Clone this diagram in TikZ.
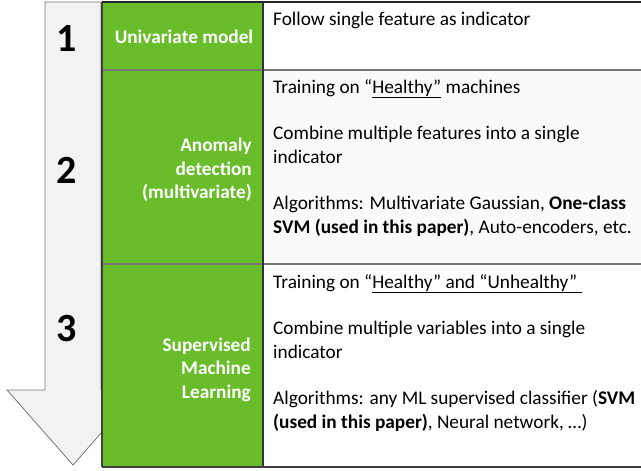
\documentclass[tikz,border=0pt]{standalone}
\usepackage{fontspec}
\setmainfont{Carlito}
\definecolor{tgreen}{RGB}{106,189,42}
\definecolor{arrowfill}{RGB}{242,242,242}
\definecolor{rowgray}{RGB}{250,250,250}
\definecolor{linegray}{RGB}{118,118,118}
\begin{document}
\begin{tikzpicture}[x=1pt,y=-1pt,
  body/.style={anchor=base west,inner sep=0pt,font=\fontsize{19.3}{24}\selectfont,text=black},
  lab/.style={anchor=base east,inner sep=0pt,font=\fontsize{19.3}{24}\selectfont\bfseries,text=white},
  num/.style={anchor=base,inner sep=0pt,font=\fontsize{40}{40}\selectfont\bfseries,text=black},
  rowline/.style={draw=linegray,line width=1.4pt}]
\useasboundingbox (0,0) rectangle (641,471);
% arrow
\draw[draw=linegray,line width=0.8pt,fill=arrowfill]
  (45,2) -- (101,2) -- (101,390) -- (139,390) -- (73,465) -- (7,390) -- (45,390) -- cycle;
\node[num] (n1) at (67,52) {1};
\node[num] (n2) at (67,183) {2};
\node[num] (n3) at (67,341) {3};
% table backgrounds
\fill[tgreen] (102,2) rectangle (263,467);
\fill[white] (263,2) rectangle (641,70);
\fill[rowgray] (263,70) rectangle (641,264);
\fill[white] (263,264) rectangle (641,467);
% lines
\draw[rowline] (102,70) -- (641,70);
\draw[rowline] (102,264) -- (641,264);
\draw[draw=black!80,line width=1.4pt] (263,2) -- (263,467);
\draw[draw=black!75,line width=1.6pt] (102,2) -- (102,467);
\draw[draw=black!85,line width=2pt] (102,2) -- (641,2);
\draw[draw=black!75,line width=1.6pt] (102,467) -- (641,467);
% labels
\node[lab,anchor=base] (l1) at (184,43) {Univariate model};
\node[lab] (l2a) at (252,151) {Anomaly};
\node[lab] (l2b) at (252,175) {detection};
\node[lab] (l2c) at (252,198) {(multivariate)};
\node[lab] (l3a) at (251,351) {Supervised};
\node[lab] (l3b) at (251,374) {Machine};
\node[lab] (l3c) at (251,398) {Learning};
% content
\node[body] (c1) at (273,25) {Follow single feature as indicator};
\node[body] (c2a) at (273,93) {Training on “\underline{Healthy”} machines};
\node[body] (c2b) at (273,139) {Combine multiple features into a single};
\node[body] (c2c) at (273,163) {indicator};
\node[body] (c2d) at (273,209) {Algorithms: Multivariate Gaussian, \textbf{One-class}};
\node[body] (c2e) at (273,233) {\textbf{SVM (used in this paper)}, Auto-encoders, etc.};
\node[body] (c3a) at (273,288) {Training on “\underline{Healthy” and “Unhealthy”\ }};
\node[body] (c3b) at (273,334) {Combine multiple variables into a single};
\node[body] (c3c) at (273,358) {indicator};
\node[body] (c3d) at (273,404) {Algorithms: any ML supervised classifier (\textbf{SVM}};
\node[body] (c3e) at (273,428) {\textbf{(used in this paper)}, Neural network, …)};
\end{tikzpicture}
\end{document}
